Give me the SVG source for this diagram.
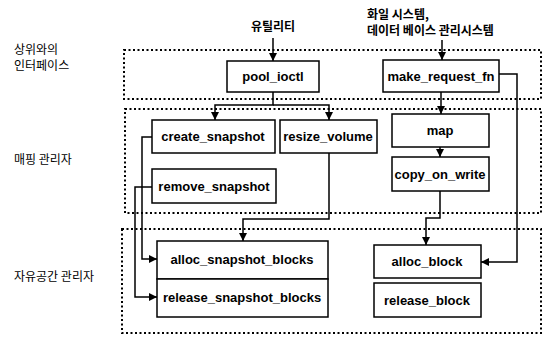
<svg xmlns="http://www.w3.org/2000/svg" width="545" height="338" viewBox="0 0 545 338">
<defs>
<marker id="ah" markerUnits="userSpaceOnUse" markerWidth="8" markerHeight="8" refX="8" refY="4" orient="auto">
<path d="M0,0 L8,4 L0,8 z" fill="#000"/>
</marker>
<style>
.region{fill:none;stroke:#000;stroke-width:2;stroke-dasharray:2 2.5}
.box{fill:#fff;stroke:#000;stroke-width:1.5}
.bl{font-family:"Liberation Sans",Arial,sans-serif;font-weight:bold;font-size:13px;text-anchor:middle;fill:#000}
.kl{font-family:"Noto Sans CJK KR","Noto Sans",sans-serif;font-size:12px;fill:#000}
.kt{font-family:"Noto Sans CJK KR","Noto Sans",sans-serif;font-size:12px;font-weight:bold;fill:#000}
.con{fill:none;stroke:#000;stroke-width:1.5}
</style>
</defs>
<rect width="545" height="338" fill="#fff"/>
<g id="regions">
<rect class="region" x="124" y="50" width="417" height="49"/>
<rect class="region" x="125" y="109" width="416" height="104"/>
<rect class="region" x="122" y="229" width="419" height="104"/>
</g>
<g id="labels">
<text class="kl" x="14" y="54">상위와의</text>
<text class="kl" x="14" y="70">인터페이스</text>
<text class="kl" x="14" y="164">매핑 관리자</text>
<text class="kl" x="14" y="281">자유공간 관리자</text>
<text class="kt" x="273" y="31" text-anchor="middle">유틸리티</text>
<text class="kt" x="367" y="19">화일 시스템,</text>
<text class="kt" x="367" y="35">데이터 베이스 관리시스템</text>
</g>
<g id="connectors">
<path class="con" d="M273,38 V61" marker-end="url(#ah)"/>
<path class="con" d="M442,40 V60" marker-end="url(#ah)"/>
<path class="con" d="M273,92 V105 H215 V120" marker-end="url(#ah)"/>
<path class="con" d="M273,105 H329 V120" marker-end="url(#ah)"/>
<path class="con" d="M441,92 V114" marker-end="url(#ah)"/>
<path class="con" d="M440,147 V157" marker-end="url(#ah)"/>
<path class="con" d="M499,74 H517 V262 H481" marker-end="url(#ah)"/>
<path class="con" d="M440,191 V218 H426 V245" marker-end="url(#ah)"/>
<path class="con" d="M329,153 V219 H243 V241" marker-end="url(#ah)"/>
<path class="con" d="M152,137 H142 V259 H157" marker-end="url(#ah)"/>
<path class="con" d="M152,187 H135 V297 H157" marker-end="url(#ah)"/>
</g>
<g id="pool_ioctl"><rect class="box" x="227" y="61" width="92" height="31"/><text class="bl" x="273" y="81">pool_ioctl</text></g>
<g id="make_request_fn"><rect class="box" x="383" y="60" width="116" height="32"/><text class="bl" x="441" y="81">make_request_fn</text></g>
<g id="create_snapshot"><rect class="box" x="152" y="120" width="123" height="33"/><text class="bl" x="213" y="141">create_snapshot</text></g>
<g id="resize_volume"><rect class="box" x="280" y="120" width="97" height="33"/><text class="bl" x="328" y="141">resize_volume</text></g>
<g id="map"><rect class="box" x="392" y="114" width="97" height="33"/><text class="bl" x="440" y="135">map</text></g>
<g id="copy_on_write"><rect class="box" x="392" y="157" width="97" height="34"/><text class="bl" x="440" y="179">copy_on_write</text></g>
<g id="remove_snapshot"><rect class="box" x="152" y="169" width="124" height="34"/><text class="bl" x="214" y="191">remove_snapshot</text></g>
<g id="alloc_snapshot_blocks"><rect class="box" x="157" y="241" width="171" height="38"/><text class="bl" x="242" y="264">alloc_snapshot_blocks</text></g>
<g id="release_snapshot_blocks"><rect class="box" x="157" y="279" width="171" height="38"/><text class="bl" x="242" y="302">release_snapshot_blocks</text></g>
<g id="alloc_block"><rect class="box" x="374" y="245" width="107" height="33"/><text class="bl" x="427" y="266">alloc_block</text></g>
<g id="release_block"><rect class="box" x="374" y="283" width="107" height="34"/><text class="bl" x="427" y="305">release_block</text></g>
</svg>
